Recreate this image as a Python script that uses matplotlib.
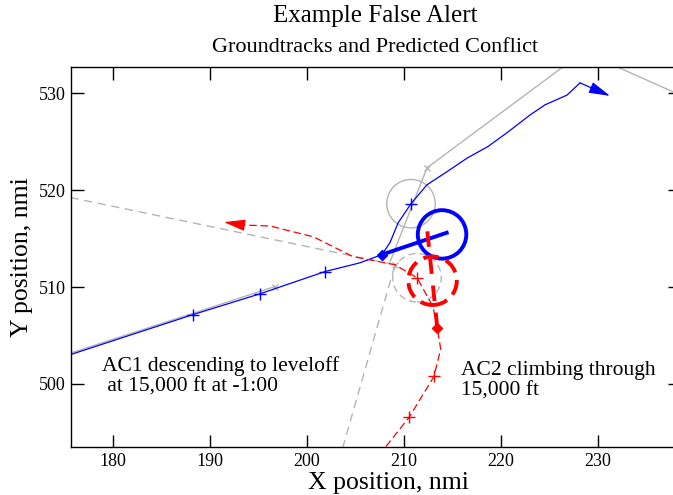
import matplotlib
matplotlib.use('Agg')
import matplotlib.pyplot as plt
from matplotlib.patches import Circle

plt.rcParams['font.family'] = ['Liberation Serif', 'DejaVu Serif']

# AC1 groundtrack (nmi)
ac1_x = [175.67, 180.72, 188.25, 195.15, 201.86, 205.46, 207.73, 208.56, 209.38, 210.72,
         212.37, 214.43, 216.5, 218.66, 220.72, 222.99, 224.54, 226.8, 228.14]
ac1_y = [503.05, 504.7, 507.16, 509.3, 511.6, 512.5, 513.35, 514.6, 516.6, 518.6,
         520.55, 521.9, 523.3, 524.5, 526.0, 527.75, 528.8, 529.8, 531.06]
ac1_arrow_tip = (231.24, 529.72)
ac1_plus_x = [188.25, 195.15, 201.86, 210.72]
ac1_plus_y = [507.16, 509.3, 511.6, 518.6]
ac1_now = (207.73, 513.35)
ac1_pred = (214.4, 515.6)
ac1_pred_circle = (213.92, 515.43)

# AC2 groundtrack (nmi)
ac2_x = [208.14, 210.55, 213.09, 213.78, 213.43, 212.99, 211.34, 209.07, 207.53,
         204.74, 202.68, 200.62, 198.97, 196.19, 193.4]
ac2_y = [493.55, 496.6, 500.78, 503.6, 505.77, 507.97, 510.96, 512.3, 512.6,
         513.14, 514.17, 515.2, 515.6, 516.3, 516.4]
ac2_arrow_tip = (191.44, 516.7)
ac2_plus_x = [210.55, 213.09, 211.34]
ac2_plus_y = [496.6, 500.78, 510.96]
ac2_now = (213.43, 505.77)
ac2_pred = (212.37, 516.1)
ac2_pred_circle = (212.94, 510.65)

# intent (grey) routes
route1a_x = [175.67, 196.7]
route1a_y = [503.2, 510.05]
route1b_x = [208.56, 212.37, 228.48, 240.5]
route1b_y = [512.6, 522.3, 534.27, 528.9]
route2_x = [170.0, 209.07, 202.7]
route2_y = [520.4, 512.3, 490.0]
grey_x_marks_x = [196.7, 212.37, 209.07]
grey_x_marks_y = [510.05, 522.3, 512.3]

radius = 2.5

fig = plt.figure(figsize=(6.73, 4.95), dpi=100)
ax = fig.add_axes([71 / 673, 48 / 495, 609 / 673, 380 / 495])
ax.set_xlim(175.67, 238.45)
ax.set_ylim(493.5, 532.7)

grey = '#b4b4b4'
ax.plot(route1a_x, route1a_y, color=grey, lw=1.0)
ax.plot(route1b_x, route1b_y, color=grey, lw=1.0)
ax.plot(route2_x, route2_y, color=grey, lw=1.0, ls=(0, (6, 4)))
ax.plot(grey_x_marks_x, grey_x_marks_y, 'x', color=grey, ms=5, mew=1.0)
ax.add_patch(Circle((ac1_plus_x[-1], ac1_plus_y[-1]), radius, fill=False, ec=grey, lw=1.0))
ax.add_patch(Circle((ac2_plus_x[-1], ac2_plus_y[-1]), radius, fill=False, ec=grey,
                    lw=1.0, ls=(0, (5, 3))))

# AC1
ax.plot(ac1_x, ac1_y, color='blue', lw=0.9)
ax.annotate('', xy=ac1_arrow_tip, xytext=(ac1_x[-1], ac1_y[-1]),
            arrowprops=dict(arrowstyle='-|>,head_length=1.3,head_width=0.35',
                            color='blue', lw=0.9, shrinkA=0, shrinkB=0))
ax.plot(ac1_plus_x, ac1_plus_y, '+', color='blue', ms=9, mew=1.0)
ax.plot([ac1_now[0], ac1_pred[0]], [ac1_now[1], ac1_pred[1]], color='blue', lw=2.8)
ax.plot(*ac1_now, 'D', color='blue', ms=5)
ax.add_patch(Circle(ac1_pred_circle, radius, fill=False, ec='blue', lw=2.8))

# AC2
ax.plot(ac2_x, ac2_y, color='red', lw=0.9, ls=(0, (6, 3)))
ax.annotate('', xy=ac2_arrow_tip, xytext=(ac2_x[-1], ac2_y[-1]),
            arrowprops=dict(arrowstyle='-|>,head_length=1.3,head_width=0.35',
                            color='red', lw=0.9, shrinkA=0, shrinkB=0))
ax.plot(ac2_plus_x, ac2_plus_y, '+', color='red', ms=9, mew=1.0)
ax.plot([ac2_now[0], ac2_pred[0]], [ac2_now[1], ac2_pred[1]], color='red', lw=2.8,
        ls=(0, (4, 3)))
ax.plot(*ac2_now, 'D', color='red', ms=5)
ax.add_patch(Circle(ac2_pred_circle, radius, fill=False, ec='red', lw=2.8, ls=(0, (4, 2))))

ax.text(178.87, 502.85, 'AC1 descending to leveloff\n at 15,000 ft at -1:00',
        fontsize=15.5, va='top', ha='left', linespacing=1.12)
ax.text(215.88, 502.4, 'AC2 climbing through\n15,000 ft',
        fontsize=15.5, va='top', ha='left', linespacing=1.12)

ax.set_xticks([180, 190, 200, 210, 220, 230])
ax.set_yticks([500, 510, 520, 530])
ax.tick_params(direction='in', length=9, width=1.0, top=True, right=True,
               labelsize=13, pad=4)
for s in ax.spines.values():
    s.set_linewidth(1.0)

ax.set_xlabel('X position, nmi', fontsize=18.5)
ax.xaxis.set_label_coords((388 - 71) / 609, -36 / 380)
ax.xaxis.label.set_va('center')
ax.set_ylabel('Y position, nmi', fontsize=18.5, labelpad=4)
fig.text(375.5 / 673, 1 - 16 / 495, 'Example False Alert', fontsize=18,
         ha='center', va='center')
fig.text(375.5 / 673, 1 - 47 / 495, 'Groundtracks and Predicted Conflict', fontsize=16,
         ha='center', va='center')

fig.savefig('out.png', dpi=100)
